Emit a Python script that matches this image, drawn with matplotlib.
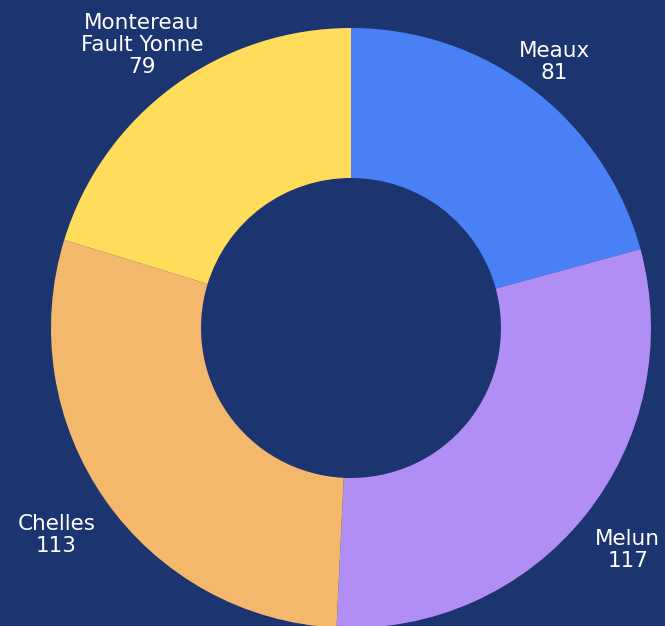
import numpy as np
import matplotlib.pyplot as plt

# donut data, clockwise from the top
towns = ['Meaux', 'Melun', 'Chelles', 'Montereau\nFault Yonne']
counts = [81, 117, 113, 79]
colours = ['#4a80f6', '#b08ef4', '#f4b86c', '#ffdc5a']

bg = '#1c346f'

fig = plt.figure(figsize=(6.65, 6.26), dpi=100, facecolor=bg)
ax = fig.add_axes([0, 0, 1, 1])
ax.set_facecolor(bg)

wedges, _ = ax.pie(counts, colors=colours, startangle=90, counterclock=False,
                   radius=300, wedgeprops=dict(width=150, linewidth=0))

# labels sit just outside each wedge, at its middle angle
total = sum(counts)
start = 90.0
dist = [335, 355, 360, 352]
for town, n, d in zip(towns, counts, dist):
    span = n / total * 360
    mid = np.deg2rad(start - span / 2)
    start -= span
    ax.text(d * np.cos(mid), d * np.sin(mid), f'{town}\n{n}', ha='center', va='center',
            color='white', fontsize=15.5, family='DejaVu Sans', linespacing=1.1)

ax.set_xlim(-351, 314)
ax.set_ylim(-298, 328)
ax.set_aspect('equal')
ax.axis('off')

fig.savefig('out.png', facecolor=bg)
